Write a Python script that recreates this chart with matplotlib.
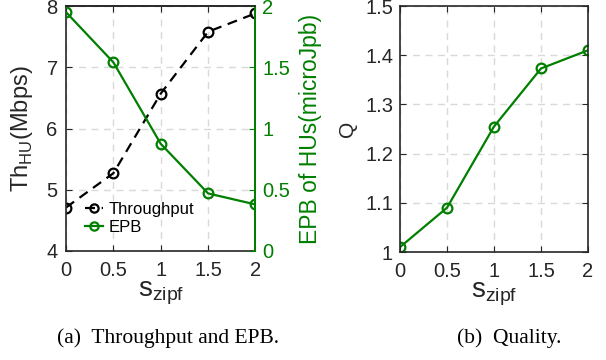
import matplotlib.pyplot as plt

plt.rcParams['font.family'] = ['Liberation Sans', 'DejaVu Sans']

# data
s_zipf = [0, 0.5, 1, 1.5, 2]
throughput = [4.71, 5.27, 6.57, 7.58, 7.88]
epb = [1.95, 1.54, 0.875, 0.47, 0.38]
quality = [1.01, 1.09, 1.255, 1.373, 1.41]
x_ticks = [0, 0.5, 1, 1.5, 2]
x_ticklabels = ['0', '0.5', '1', '1.5', '2']
th_ticks = [4, 5, 6, 7, 8]
epb_ticks = [0, 0.5, 1, 1.5, 2]
epb_ticklabels = ['0', '0.5', '1', '1.5', '2']
q_ticks = [1, 1.1, 1.2, 1.3, 1.4, 1.5]
q_ticklabels = ['1', '1.1', '1.2', '1.3', '1.4', '1.5']

GREEN = '#007f00'
DARK = '#262626'
W, H = 606, 360
TICK_FS = 14.5
SERIF = ['Liberation Serif', 'DejaVu Serif']


def style_axes(ax):
    """matlab-ish look"""
    ax.grid(True, linestyle=(0, (5, 4)), color='#d9d9d9', linewidth=1.0)
    ax.set_axisbelow(True)
    ax.tick_params(direction='in', length=4, labelsize=TICK_FS, width=0.8,
                   colors=DARK, top=True)
    ax.tick_params(axis='x', pad=7)
    for sp in ax.spines.values():
        sp.set_linewidth(1.2)
        sp.set_color(DARK)


fig = plt.figure(figsize=(W / 100, H / 100), dpi=100)

# (a) throughput and EPB
ax1 = fig.add_axes([66 / W, (H - 251) / H, 189.5 / W, 245 / H])
style_axes(ax1)
ax1.tick_params(axis='y', pad=6)
l1, = ax1.plot(s_zipf, throughput, color='black', linestyle=(0, (4.5, 3)),
               linewidth=1.6, marker='o', markersize=7,
               markerfacecolor='none', markeredgewidth=1.6)
ax1.set_xlim(0, 2)
ax1.set_ylim(4, 8)
ax1.set_xticks(x_ticks)
ax1.set_xticklabels(x_ticklabels)
ax1.set_yticks(th_ticks)
ax1.set_ylabel('Th$_{\\mathregular{HU}}$(Mbps)', fontsize=17, labelpad=8,
               color=DARK)
ax1.set_xlabel('s$_{\\mathregular{zipf}}$', fontsize=20, labelpad=0,
               color=DARK)

ax2 = ax1.twinx()
l2, = ax2.plot(s_zipf, epb, color=GREEN, linewidth=1.6, marker='o',
               markersize=7, markerfacecolor='none', markeredgewidth=1.6)
ax2.set_ylim(0, 2)
ax2.set_yticks(epb_ticks)
ax2.set_yticklabels(epb_ticklabels)
ax2.tick_params(axis='y', direction='in', length=4, labelsize=TICK_FS,
                colors=GREEN, width=0.8, pad=5)
ax2.spines['right'].set_color(GREEN)
ax2.spines['right'].set_linewidth(1.4)
ax2.spines['top'].set_linewidth(1.2)
ax2.spines['top'].set_color(DARK)
ax2.spines['left'].set_visible(False)
ax2.spines['bottom'].set_visible(False)
ax2.set_ylabel('EPB of HUs(microJpb)', fontsize=16.5, color=GREEN,
               labelpad=6)

ax1.legend([l1, l2], ['Throughput', 'EPB'], loc='upper left',
           bbox_to_anchor=(0.1, 0.2), frameon=False, fontsize=12,
           handlelength=1.1, handletextpad=0.3, labelspacing=0.15,
           borderpad=0, borderaxespad=0, markerscale=0.85)

# (b) quality
ax3 = fig.add_axes([400 / W, (H - 252) / H, 188 / W, 246 / H])
style_axes(ax3)
ax3.tick_params(axis='y', pad=5, right=True)
ax3.plot(s_zipf, quality, color=GREEN, linewidth=1.6, marker='o',
         markersize=7, markerfacecolor='none', markeredgewidth=1.6)
ax3.set_xlim(0, 2)
ax3.set_ylim(1, 1.5)
ax3.set_xticks(x_ticks)
ax3.set_xticklabels(x_ticklabels)
ax3.set_yticks(q_ticks)
ax3.set_yticklabels(q_ticklabels)
ax3.set_ylabel('Q', fontsize=15, labelpad=6, color=DARK)
ax3.set_xlabel('s$_{\\mathregular{zipf}}$', fontsize=20, labelpad=0,
               color=DARK)

# captions
fig.text(168 / W, 1 - 338 / H, '(a)  Throughput and EPB.', ha='center',
         va='center', fontsize=15.5, family=SERIF)
fig.text(509 / W, 1 - 338 / H, '(b)  Quality.', ha='center',
         va='center', fontsize=15.5, family=SERIF)

fig.savefig('out.png', dpi=100)
